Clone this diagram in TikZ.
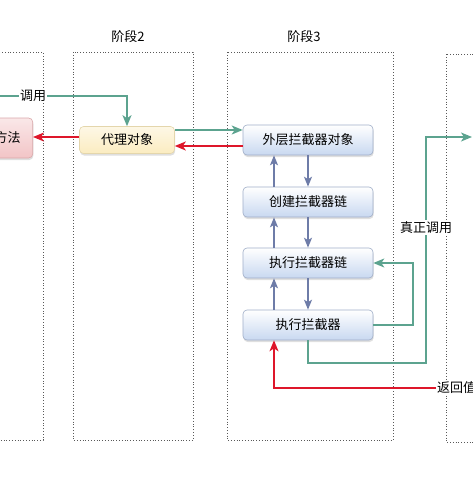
\documentclass[tikz,border=0pt]{standalone}
\usepackage{fontspec}
\setmainfont{Noto Sans CJK SC}
\usepackage{tikz}
\usetikzlibrary{arrows.meta,shadows}
\definecolor{callgreen}{RGB}{92,163,143}
\definecolor{backred}{RGB}{222,22,42}
\definecolor{stepslate}{RGB}{110,124,168}
\definecolor{blueedge}{RGB}{160,174,200}
\definecolor{bluelow}{RGB}{200,216,240}
\definecolor{yellowedge}{RGB}{228,214,172}
\definecolor{yellowlow}{RGB}{251,236,192}
\definecolor{pinkedge}{RGB}{218,168,170}
\definecolor{pinklow}{RGB}{242,196,198}
\tikzset{
	stage/.style={draw=black!65, dotted, line width=0.8pt},
	block/.style={rounded corners=4pt, line width=0.6pt, font=\fontsize{13}{15}\selectfont,
		drop shadow={opacity=0.25, shadow xshift=0.6pt, shadow yshift=-2pt}},
	bluebox/.style={block, draw=blueedge, top color=white, bottom color=bluelow, minimum width=130pt, minimum height=30pt},
	yellowbox/.style={block, draw=yellowedge, top color=white!60!yellowlow, bottom color=yellowlow, minimum width=95pt, minimum height=27pt},
	pinkbox/.style={block, draw=pinkedge, top color=white!60!pinklow, bottom color=pinklow, minimum height=40pt},
	tag/.style={fill=white, inner sep=1pt, font=\fontsize{13}{15}\selectfont},
	greenline/.style={draw=callgreen, line width=1.7pt, -{Stealth[length=11pt,width=9pt,inset=3pt]}},
	redline/.style={draw=backred, line width=1.7pt, -{Stealth[length=11pt,width=9pt,inset=3pt]}},
	slateline/.style={draw=stepslate, line width=1.7pt, -{Stealth[length=10pt,width=8pt,inset=2.5pt]}}
}
\begin{document}
\begin{tikzpicture}[x=1pt,y=-1pt]
		\useasboundingbox (0,0) rectangle (473,477);
		\clip (0,0) rectangle (473,477);
		%
		\draw[stage] (-20,52) rectangle (43,440);
		\draw[stage] (73,52) rectangle (193,440);
		\draw[stage] (227,52) rectangle (393,440);
		\draw[stage] (446,54) rectangle (500,442);
		\node[font=\fontsize{13}{15}\selectfont] (s2) at (128,37) {阶段2};
		\node[font=\fontsize{13}{15}\selectfont] (s3) at (304,37) {阶段3};
		%
		\node[pinkbox, anchor=east, inner xsep=12pt, text width=70pt, align=right] (method) at (33,138) {方法};
		\node[yellowbox] (proxy) at (127,140) {代理对象};
		\node[bluebox] (outer) at (308,140) {外层拦截器对象};
		\node[bluebox] (chain) at (308,202) {创建拦截器链};
		\node[bluebox] (runchain) at (308,263) {执行拦截器链};
		\node[bluebox] (runone) at (308,325) {执行拦截器};
		\coordinate (callin) at (-5,96);
		\coordinate (realtgt) at (472,137);
		\node[tag, anchor=west] (retval) at (436,388) {返回值};
		%
		\draw[greenline] (callin) -| node[tag, pos=0.144]{调用} (proxy.north);
		\draw[greenline] ([yshift=10pt]proxy.east) -- ([yshift=10pt]outer.west);
		\draw[redline] ([yshift=-6pt]outer.west) -- ([yshift=-6pt]proxy.east);
		\draw[redline] ([yshift=3pt]proxy.west) -- ([yshift=3pt]proxy.west -| method.east);
		\foreach \a/\b in {outer/chain, chain/runchain, runchain/runone} {
			\draw[slateline] ([xshift=-34pt]\b.north) -- ([xshift=-34pt]\a.south);
			\draw[slateline] (\a.south) -- (\b.north);
		}
		\draw[greenline] (runone.east) -- ++(40,0) |- (runchain.east);
		\draw[greenline] (runone.south) -- ++(0,23) -- ++(118,0) |- node[tag, pos=0.3]{真正调用} (realtgt);
		\draw[redline] (retval.west) -| ([xshift=-34pt]runone.south);
\end{tikzpicture}
\end{document}
